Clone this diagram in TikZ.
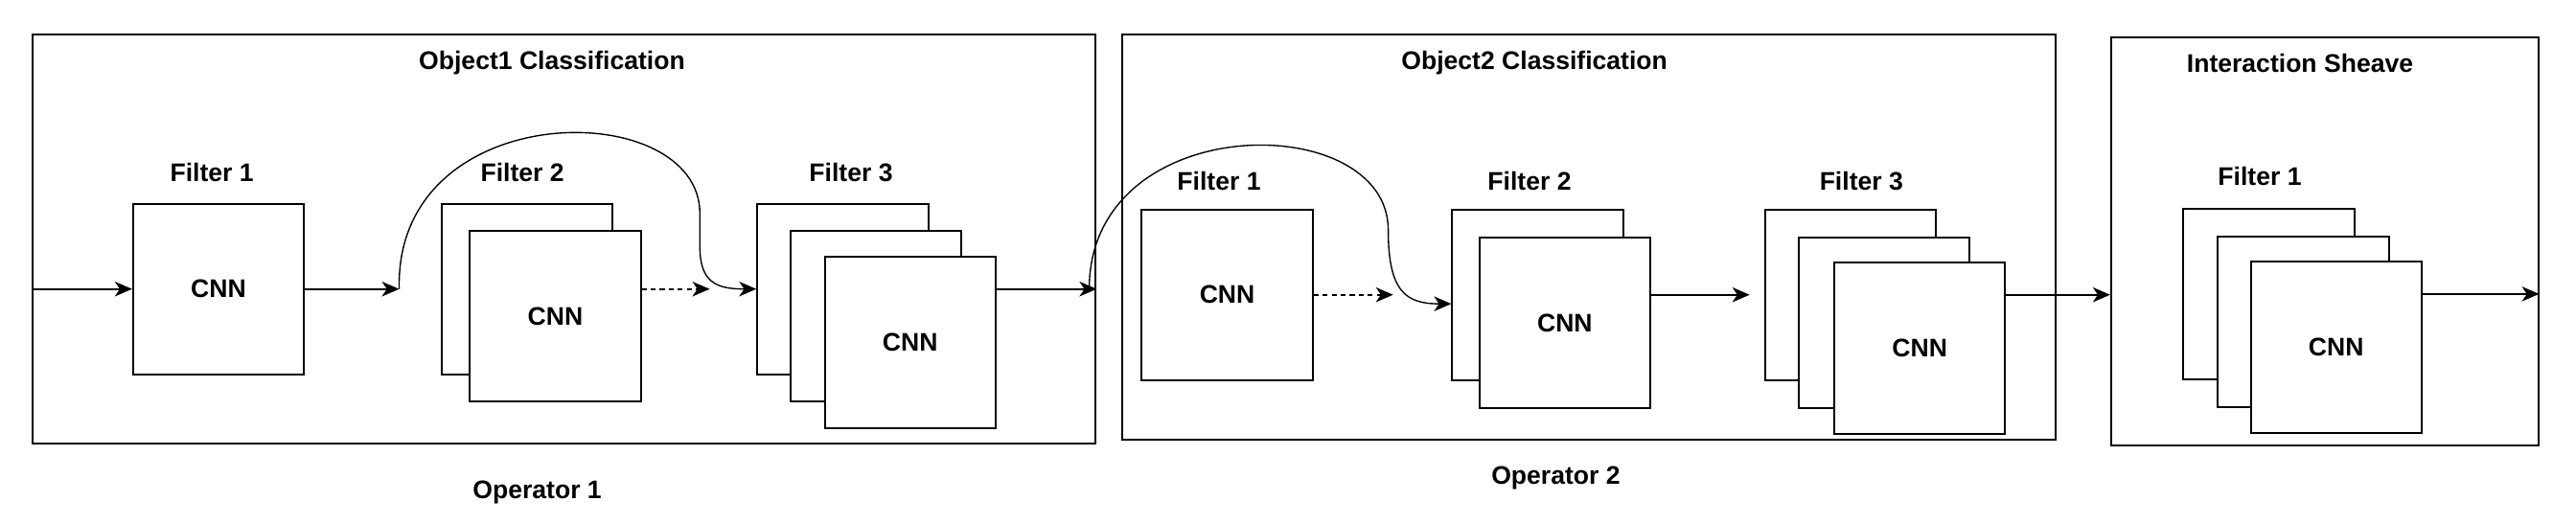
\documentclass[tikz,border=0pt]{standalone}
\usepackage{fontspec}
\setmainfont{Liberation Sans}
\usetikzlibrary{arrows.meta}

\begin{document}
\begin{tikzpicture}[x=1pt,y=-1pt,>={Stealth[length=10.5pt,width=9pt,inset=3pt]},line width=1.15pt,
    every node/.style={font=\fontsize{15.5}{18}\selectfont\bfseries},
    frame/.style={draw,minimum width=#1},
    cnn/.style={draw,fill=white,minimum width=104pt,minimum height=104pt,inner sep=0pt},
    dots/.style={dash pattern=on 3pt off 2.5pt}]
    \useasboundingbox (0,0) rectangle (1568,318.5);
    % operator frames
    \node[frame=647pt,minimum height=249pt] (fr1) at (343.5,145.5) {};
    \node[frame=568pt,minimum height=247pt] (fr2) at (967,144.5) {};
    \node[frame=260pt,minimum height=248pt] (fr3) at (1415,147) {};
    \node (t1) at (336,38.5) {Object1 Classification};
    \node (t2) at (934,38.5) {Object2 Classification};
    \node (t3) at (1400,38.5) {Interaction Sheave};
    \node (op1) at (327,300) {Operator 1};
    \node (op2) at (947,291) {Operator 2};
    % operator 1 filters
    \node (l11) at (129,105) {Filter 1};
    \node (l12) at (318,105) {Filter 2};
    \node (l13) at (518,105) {Filter 3};
    \node[cnn] (o1f1) at (133,176) {CNN};
    \node[cnn] (o1f2a) at (321,176) {};
    \node[cnn] (o1f2b) at (338,192.5) {CNN};
    \node[cnn] (o1f3a) at (513,176) {};
    \node[cnn] (o1f3b) at (533,192.5) {};
    \node[cnn] (o1f3c) at (554,208.5) {CNN};
    % operator 2 filters
    \node (l21) at (742,110.5) {Filter 1};
    \node (l22) at (931,110.5) {Filter 2};
    \node (l23) at (1133,110.5) {Filter 3};
    \node[cnn] (o2f1) at (747,179.5) {CNN};
    \node[cnn] (o2f2a) at (936,179.5) {};
    \node[cnn] (o2f2b) at (952.5,196.5) {CNN};
    \node[cnn] (o2f3a) at (1126.5,179.5) {};
    \node[cnn] (o2f3b) at (1147,196.5) {};
    \node[cnn] (o2f3c) at (1168.5,212) {CNN};
    % interaction filter
    \node (l31) at (1375.5,107.5) {Filter 1};
    \node[cnn] (o3f1a) at (1381,179) {};
    \node[cnn] (o3f1b) at (1402,196) {};
    \node[cnn] (o3f1c) at (1422,211.5) {CNN};
    % free ends
    \coordinate (a1) at (243,176);
    \coordinate (d1) at (432,176);
    \coordinate (j1) at (663,176);
    \coordinate (d2) at (848,179.5);
    \coordinate (a2) at (1065,179.5);
    % connectors
    \draw[->] (fr1.west |- o1f1) -- (o1f1);
    \draw[->] (o1f1) -- (a1);
    \draw[->,dots] (o1f2b.east |- o1f1) -- (d1);
    \draw[->,line width=0.8pt] (a1) .. controls (240,58) and (426,58) .. (426,130)
        -- (426,150) .. controls (426,172) and (436,176) .. (o1f3a.west);
    \draw[->] (o1f3c.east |- o1f1) -- (fr1.east |- o1f1);
    \draw[->,line width=0.8pt] (j1) .. controls (663,66) and (845,66) .. (845,140)
        .. controls (845,178) and (856,185) .. ([yshift=-5.5pt]o2f2a.west);
    \draw[->,dots] (o2f1) -- (d2);
    \draw[->] (o2f2b.east |- o2f1) -- (a2);
    \draw[->] (o2f3c.east |- o2f1) -- (fr3.west |- o2f1);
    \draw[->] (o3f1c.east |- o3f1a) -- (fr3.east |- o3f1a);
\end{tikzpicture}
\end{document}
